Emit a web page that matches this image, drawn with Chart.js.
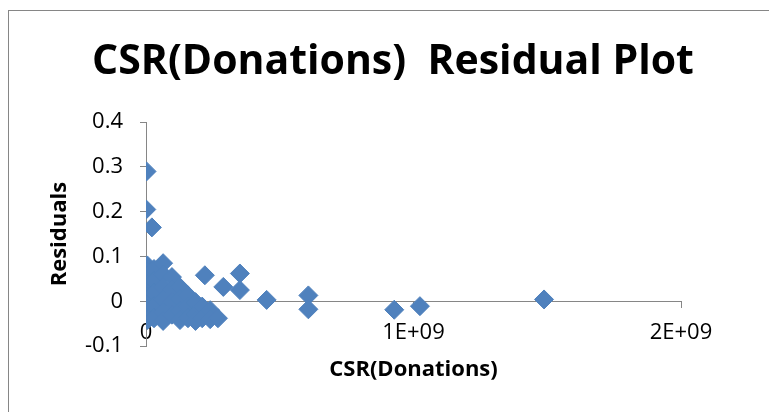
<!DOCTYPE html>
<html>
<head>
<meta charset="utf-8">
<title>CSR(Donations) Residual Plot</title>
<script src="https://cdn.jsdelivr.net/npm/chart.js@4/dist/chart.umd.min.js"></script>
<style>
  html, body { margin: 0; padding: 0; background: #ffffff; }
  #wrap { position: relative; width: 769px; height: 412px; overflow: hidden; }
</style>
</head>
<body>
<div id="wrap"><canvas id="chartResid" width="769" height="412"></canvas></div>
<script>
// donations (x) and residuals (y)
const donations = [
    0.002e9, 0.001e9, 0.022e9,
    0.005e9, 0.005e9, 0.005e9, 0.005e9, 0.005e9, 0.005e9, 0.005e9, 0.005e9, 0.005e9, 0.005e9,
    0.030e9, 0.030e9, 0.030e9, 0.030e9, 0.030e9,
    0.064e9, 0.064e9, 0.064e9, 0.064e9, 0.064e9, 0.064e9,
    0.097e9, 0.097e9, 0.097e9, 0.097e9,
    0.127e9, 0.127e9, 0.127e9, 0.127e9,
    0.157e9, 0.157e9, 0.157e9,
    0.185e9, 0.185e9, 0.185e9,
    0.210e9, 0.210e9,
    0.240e9, 0.240e9,
    0.269e9,
    0.220e9, 0.289e9, 0.351e9, 0.351e9, 0.451e9, 0.607e9, 0.607e9, 0.928e9, 1.024e9, 1.488e9
];
const residuals = [
    0.290, 0.205, 0.165,
    0.080, 0.066, 0.052, 0.038, 0.024, 0.010, -0.004, -0.018, -0.032, -0.042,
    0.072, 0.045, 0.018, -0.010, -0.038,
    0.085, 0.060, 0.032, 0.004, -0.024, -0.044,
    0.054, 0.026, -0.002, -0.030,
    0.031, 0.005, -0.022, -0.042,
    0.013, -0.012, -0.038,
    -0.002, -0.030, -0.044,
    -0.012, -0.038,
    -0.020, -0.040,
    -0.038,
    0.058, 0.032, 0.062, 0.025, 0.003, 0.013, -0.018, -0.019, -0.011, 0.004
];
const xTickLabels = ['0', '1E+09', '2E+09'];
const yTicks = [-0.1, 0, 0.1, 0.2, 0.3, 0.4];

const FONT = "'Open Sans', 'Liberation Sans', sans-serif";
const AXIS_GRAY = '#868686';
const BLUE = '#4F81BD';

// outer frame of the chart object (only left/top edges are inside the picture)
const framePlugin = {
    id: 'frame',
    beforeDraw(chart) {
        const ctx = chart.ctx;
        ctx.save();
        ctx.fillStyle = '#ffffff';
        ctx.fillRect(0, 0, chart.width, chart.height);
        ctx.strokeStyle = AXIS_GRAY;
        ctx.lineWidth = 1;
        ctx.strokeRect(8.5, 10.5, chart.width + 50, chart.height + 50);
        ctx.restore();
    }
};

const points = donations.map((x, i) => ({ x: x, y: residuals[i] }));

new Chart(document.getElementById('chartResid').getContext('2d'), {
    type: 'scatter',
    data: {
        datasets: [{
            label: 'Residuals',
            data: points,
            pointStyle: 'rectRot',
            pointRadius: 9.5,
            pointBorderWidth: 1,
            backgroundColor: BLUE,
            borderColor: BLUE
        }]
    },
    options: {
        responsive: false,
        animation: false,
        layout: { padding: { top: 0, left: 17, right: 0, bottom: 66 } },
        plugins: {
            legend: { display: false },
            tooltip: { enabled: false },
            title: {
                display: true,
                text: 'CSR(Donations)  Residual Plot',
                color: '#000000',
                font: { family: FONT, size: 41, weight: 'bold' },
                padding: { top: 38, bottom: 35 }
            }
        },
        scales: {
            x: {
                type: 'linear',
                position: { y: 0 },
                min: 0,
                max: 2e9,
                afterBuildTicks: s => { s.ticks = [0, 1e9, 2e9].map(v => ({ value: v })); },
                afterFit: s => { s.height = 82; },
                grid: { display: true, drawOnChartArea: false, drawTicks: true, tickLength: 6, color: AXIS_GRAY },
                border: { display: true, color: AXIS_GRAY, width: 1 },
                ticks: {
                    color: '#000000',
                    font: { family: FONT, size: 22 },
                    padding: 12,
                    maxRotation: 0,
                    callback: (v, i) => xTickLabels[i]
                },
                title: {
                    display: true,
                    text: 'CSR(Donations)',
                    color: '#000000',
                    font: { family: FONT, size: 22, weight: 'bold' },
                    padding: 0
                }
            },
            y: {
                position: 'left',
                min: -0.1,
                max: 0.4,
                afterBuildTicks: s => { s.ticks = yTicks.map(v => ({ value: v })); },
                afterFit: s => { s.width = 129; },
                grid: { display: true, drawOnChartArea: false, drawTicks: true, tickLength: 6, color: AXIS_GRAY },
                border: { display: true, color: AXIS_GRAY, width: 1 },
                ticks: {
                    color: '#000000',
                    font: { family: FONT, size: 22 },
                    padding: 17,
                    callback: v => String(Math.round(v * 10) / 10)
                },
                title: {
                    display: true,
                    text: 'Residuals',
                    color: '#000000',
                    font: { family: FONT, size: 22, weight: 'bold' },
                    padding: { top: 30, bottom: 0 }
                }
            },
            // empty right-hand margin so the title centres like the original
            yRight: {
                position: 'right',
                display: true,
                afterFit: s => { s.width = 88; },
                grid: { display: false },
                border: { display: false },
                ticks: { display: false },
                title: { display: false }
            }
        }
    },
    plugins: [framePlugin]
});
</script>
</body>
</html>
